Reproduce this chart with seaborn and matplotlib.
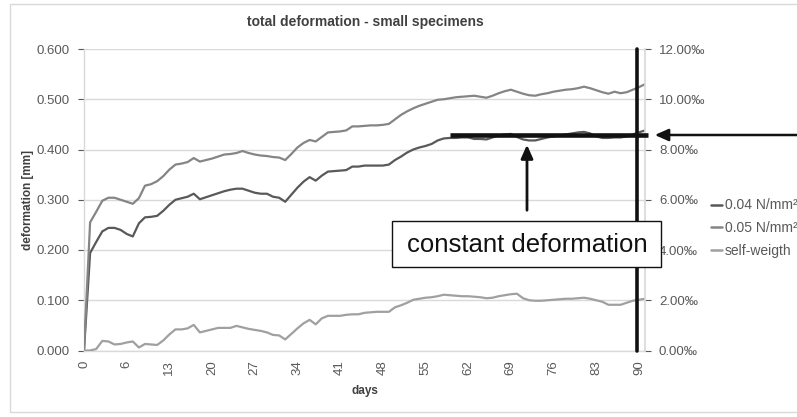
import numpy as np
import pandas as pd
import matplotlib
matplotlib.use("Agg")
import matplotlib.pyplot as plt
from matplotlib.lines import Line2D
from matplotlib.patches import Rectangle, FancyArrowPatch
import seaborn as sns

# ---------------- data ----------------
days = [0, 0, 1, 2, 3, 4, 5, 6, 7, 8, 9, 10, 11, 12, 13, 14, 15, 16, 17, 18, 19,
        20, 21, 22, 23, 24, 25, 26, 27, 28, 29, 30, 31, 32, 33, 34, 35, 36, 37, 38,
        39, 40, 41, 42, 43, 44, 45, 46, 47, 48, 49, 50, 51, 52, 53, 54, 55, 56, 57,
        58, 59, 60, 61, 62, 63, 64, 65, 66, 67, 68, 69, 70, 71, 72, 73, 74, 75, 76,
        77, 78, 79, 80, 81, 82, 83, 84, 85, 86, 87, 88, 89, 90, 91]

load_004 = [0, 0.194, 0.216, 0.237, 0.244, 0.244, 0.240, 0.232, 0.227, 0.253,
            0.265, 0.266, 0.268, 0.278, 0.290, 0.300, 0.303, 0.306, 0.312, 0.301,
            0.305, 0.309, 0.313, 0.317, 0.320, 0.322, 0.322, 0.318, 0.314, 0.312,
            0.312, 0.306, 0.304, 0.296, 0.310, 0.324, 0.336, 0.345, 0.338, 0.348,
            0.356, 0.357, 0.358, 0.359, 0.366, 0.366, 0.368, 0.368, 0.368, 0.368,
            0.370, 0.379, 0.386, 0.394, 0.400, 0.404, 0.407, 0.411, 0.418, 0.422,
            0.423, 0.423, 0.424, 0.424, 0.421, 0.421, 0.420, 0.424, 0.428, 0.430,
            0.431, 0.425, 0.420, 0.418, 0.418, 0.421, 0.424, 0.426, 0.428, 0.430,
            0.432, 0.434, 0.435, 0.432, 0.426, 0.423, 0.423, 0.424, 0.424, 0.426,
            0.430, 0.434, 0.438]

load_005 = [0, 0.255, 0.276, 0.298, 0.304, 0.304, 0.300, 0.296, 0.292, 0.303,
            0.328, 0.331, 0.337, 0.347, 0.360, 0.370, 0.372, 0.375, 0.383, 0.376,
            0.379, 0.382, 0.386, 0.390, 0.391, 0.393, 0.397, 0.393, 0.390, 0.388,
            0.387, 0.385, 0.384, 0.379, 0.391, 0.404, 0.413, 0.419, 0.416, 0.425,
            0.434, 0.435, 0.436, 0.438, 0.446, 0.446, 0.447, 0.448, 0.448, 0.449,
            0.451, 0.460, 0.469, 0.476, 0.482, 0.487, 0.491, 0.495, 0.499, 0.500,
            0.502, 0.504, 0.505, 0.506, 0.507, 0.505, 0.503, 0.507, 0.512, 0.516,
            0.519, 0.515, 0.511, 0.508, 0.507, 0.510, 0.512, 0.515, 0.517, 0.519,
            0.520, 0.522, 0.525, 0.522, 0.518, 0.514, 0.511, 0.515, 0.512, 0.514,
            0.519, 0.524, 0.530]

self_weight = [0, 0, 0.003, 0.019, 0.018, 0.012, 0.013, 0.016, 0.018, 0.006,
               0.013, 0.012, 0.011, 0.020, 0.032, 0.042, 0.042, 0.044, 0.051, 0.036,
               0.039, 0.042, 0.045, 0.045, 0.045, 0.049, 0.046, 0.043, 0.041, 0.039,
               0.036, 0.031, 0.030, 0.022, 0.033, 0.044, 0.054, 0.061, 0.052, 0.064,
               0.069, 0.069, 0.069, 0.071, 0.072, 0.072, 0.075, 0.076, 0.077, 0.077,
               0.077, 0.086, 0.090, 0.095, 0.101, 0.103, 0.105, 0.106, 0.108, 0.111,
               0.110, 0.109, 0.108, 0.108, 0.107, 0.106, 0.104, 0.105, 0.108, 0.110,
               0.112, 0.113, 0.104, 0.100, 0.099, 0.099, 0.100, 0.101, 0.102, 0.103,
               0.103, 0.104, 0.105, 0.103, 0.100, 0.097, 0.091, 0.091, 0.091, 0.095,
               0.099, 0.101, 0.103]

series_names = ["0.04 N/mm²", "0.05 N/mm²", "self-weigth"]
series_colors = ["#595959", "#858585", "#a0a0a0"]
left_ticks = [0.0, 0.1, 0.2, 0.3, 0.4, 0.5, 0.6]
right_ticks = [0, 2, 4, 6, 8, 10, 12]

# ---------------- build frame ----------------
frames = []
for name, vals in zip(series_names, [load_004, load_005, self_weight]):
    frames.append(pd.DataFrame({"pos": np.arange(len(vals)), "day": days,
                                "deformation": vals, "series": name}))
df = pd.concat(frames, ignore_index=True)

W, H = 797, 417
sns.set_theme(style="white")
plt.rcParams["font.family"] = ["Liberation Sans", "DejaVu Sans"]

fig = plt.figure(figsize=(W / 100, H / 100), dpi=100)
fig.patch.set_facecolor("white")

def fx(x):
    return x / W

def fy(y):
    return 1 - y / H

ax_l, ax_r, ax_t, ax_b = 84, 645, 49, 350.5
ax = fig.add_axes([fx(ax_l), fy(ax_b), fx(ax_r - ax_l), (ax_b - ax_t) / H])

grid_c = "#d9d9d9"
tick_c = "#595959"

sns.lineplot(data=df, x="pos", y="deformation", hue="series",
             palette=dict(zip(series_names, series_colors)), linewidth=1.6,
             ax=ax, legend=False, zorder=3)

n = len(days)
ax.set_xlim(0, n - 1)
ax.set_ylim(0, 0.6)
ax.set_yticks(left_ticks)
ax.set_yticklabels([f"{v:.3f}" for v in left_ticks])
ax.yaxis.grid(True, color=grid_c, linewidth=1.0)
ax.xaxis.grid(False)
xt = list(range(0, n, 7))
ax.set_xticks(xt)
ax.set_xticklabels([str(days[i]) for i in xt], rotation=90)
ax.tick_params(axis="both", colors=tick_c, labelsize=9.5, length=4, width=0.8,
               direction="out")
ax.tick_params(axis="x", pad=3)
ax.tick_params(axis="y", pad=6)
for s in ["top", "right"]:
    ax.spines[s].set_visible(False)
for s in ["left", "bottom"]:
    ax.spines[s].set_color(grid_c)
    ax.spines[s].set_linewidth(1.0)
ax.set_xlabel("days", fontsize=8.5, fontweight="bold", color="#404040", labelpad=7)
ax.set_ylabel("deformation [mm]", fontsize=8.5, fontweight="bold", color="#404040",
              labelpad=2)

ax2 = ax.twinx()
ax2.set_ylim(0, 12)
ax2.set_yticks(right_ticks)
ax2.set_yticklabels([f"{v:.2f}‰" for v in right_ticks])
ax2.tick_params(axis="y", colors=tick_c, labelsize=9.5, length=4, width=0.8,
                direction="out", pad=6)
for s in ["top", "left", "bottom"]:
    ax2.spines[s].set_visible(False)
ax2.spines["right"].set_color(grid_c)
ax2.grid(False)

fig.text(fx(365), fy(22), "total deformation - small specimens", ha="center",
         va="center", fontsize=10, fontweight="bold", color="#404040")

# legend
handles = [Line2D([0], [0], color=c, lw=1.8) for c in series_colors]
fig.legend(handles, series_names, loc="center left",
           bbox_to_anchor=(fx(711), fy(228)), frameon=False, fontsize=10,
           handlelength=0.8, handletextpad=0.2, labelspacing=0.62,
           labelcolor=tick_c, borderaxespad=0, borderpad=0)

# chart border
fig.add_artist(Rectangle((fx(10), fy(412)), fx(800 - 10), (412 - 4) / H,
                         transform=fig.transFigure, fill=False,
                         edgecolor="#d9d9d9", linewidth=1.0))

# annotations
fig.add_artist(Line2D([fx(637), fx(637)], [fy(49), fy(351)], color="#111111",
                      linewidth=2.6, transform=fig.transFigure, zorder=10))
fig.add_artist(Line2D([fx(450), fx(648)], [fy(135), fy(135)], color="#111111",
                      linewidth=3.3, transform=fig.transFigure, zorder=10,
                      solid_capstyle="butt"))
fig.add_artist(FancyArrowPatch(
    (fx(805), fy(135)), (fx(652), fy(135)), transform=fig.transFigure,
    arrowstyle="-|>,head_length=0.9,head_width=0.4", mutation_scale=9,
    color="#111111", linewidth=1.8, zorder=10))
fig.add_artist(FancyArrowPatch(
    (fx(527), fy(213)), (fx(527), fy(142)), transform=fig.transFigure,
    arrowstyle="-|>,head_length=0.9,head_width=0.4", mutation_scale=9,
    color="#111111", linewidth=2.0, zorder=10))

fig.add_artist(Rectangle((fx(392), fy(267)), fx(661 - 392), (267 - 221) / H,
                         transform=fig.transFigure, facecolor="white",
                         edgecolor="#111111", linewidth=1.0, zorder=11))
fig.text(fx(527), fy(245), "constant deformation", ha="center", va="center",
         fontsize=18.5, color="#111111", zorder=12)

fig.savefig("out.png", dpi=100, facecolor="white")
